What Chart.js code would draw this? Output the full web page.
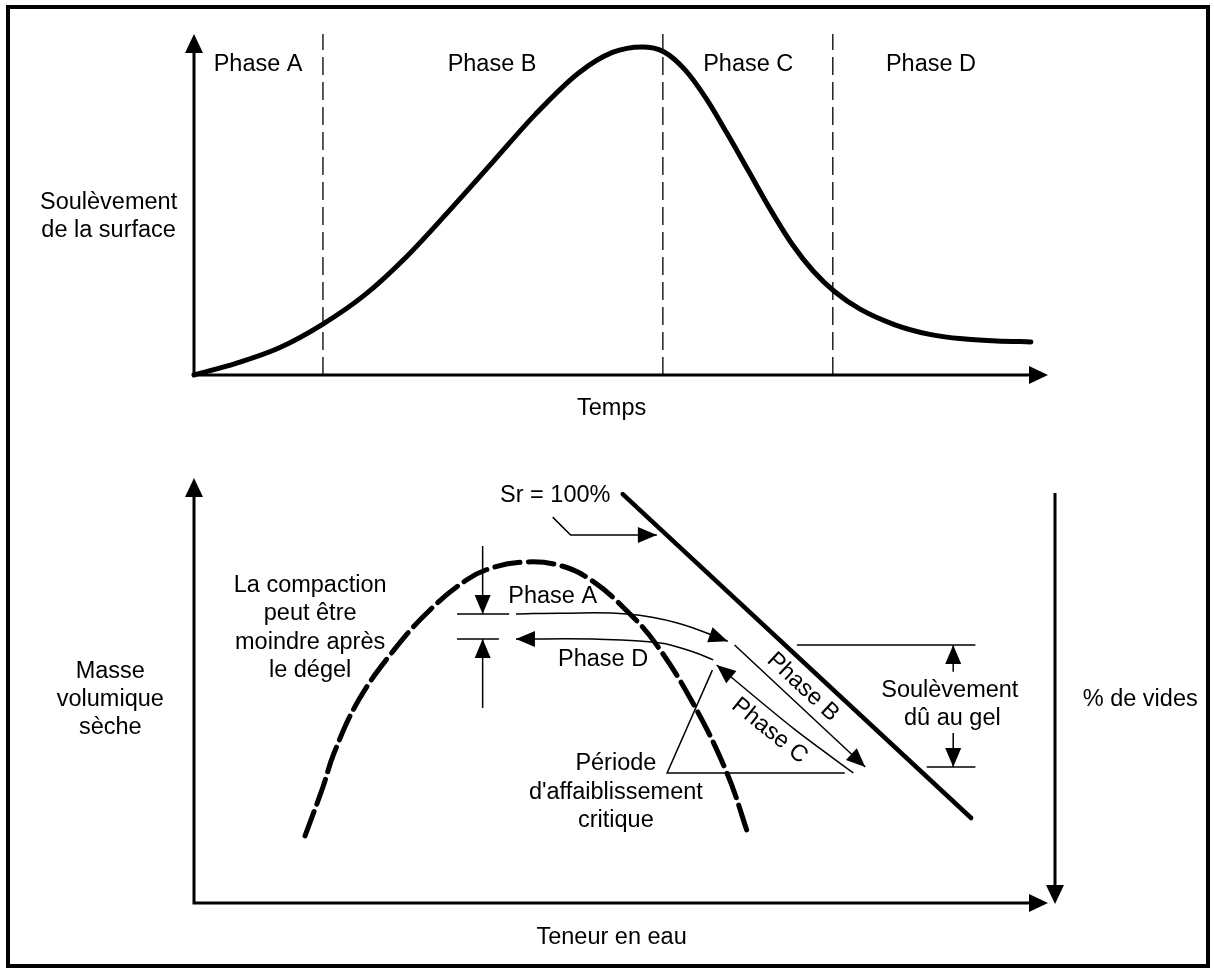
<!DOCTYPE html>
<html>
<head>
<meta charset="utf-8">
<script src="https://cdn.jsdelivr.net/npm/chart.js@4.4.1/dist/chart.umd.min.js"></script>
<style>
  html, body { margin: 0; padding: 0; background: #fff; }
  #wrap { position: relative; width: 1214px; height: 971px; overflow: hidden; background: #fff; }
  #wrap canvas { position: absolute; left: 0; top: 0; }
  #frame { position: absolute; left: 6px; top: 5px; width: 1204px; height: 963px; border: 4px solid #000; box-sizing: border-box; }
</style>
</head>
<body>
<div id="wrap">
  <div id="frame"></div>
  <canvas id="topChart" width="1214" height="971"></canvas>
  <canvas id="bottomChart" width="1214" height="971"></canvas>
</div>
<script>
// ---- top graph: surface heave over time ----
const timeVals  = [0, 5, 10, 15, 20, 25, 30, 35, 40, 45, 49, 52.5, 55, 57.5, 60, 62.5, 65, 67.5, 70, 72.5, 75, 78, 82, 86, 90, 94, 98];
const heaveVals = [0, 3.5, 8.0, 14.8, 23.5, 35.0, 48.5, 62.5, 76.5, 88.5, 94.6, 96.2, 94.8, 89.5, 81.0, 70.5, 59.5, 48.5, 38.5, 30.5, 24.5, 19.3, 14.8, 12.0, 10.6, 10.0, 9.7];
const phaseBounds = [15.1, 54.9, 74.8];
const phaseNames  = ['Phase A', 'Phase B', 'Phase C', 'Phase D'];
const phaseLabelX = [7.5, 34.9, 64.9, 86.3];
const phaseLabelY = 91.1;

// ---- bottom graph: dry density vs water content ----
const proctorX = [13.0, 15.1, 16.4, 19.3, 23.4, 27.6, 31.9, 34.8, 38.5, 42.7, 46.5, 50.6, 54.0, 58.4, 62.4, 65.0];
const proctorY = [15.8, 27.3, 35.3, 47.8, 59.5, 68.9, 76.0, 78.8, 80.2, 79.5, 76.0, 68.9, 61.2, 47.1, 30.6, 15.5];
const srX = [50.2, 91.0];
const srY = [96.2, 20.0];

// paths of the phase arrows and the callouts (water content, density)
const pathPhaseA = [[37.7, 68.0], [42.9, 68.2], [50.7, 68.0], [56.6, 65.9], [62.5, 61.6]];
const pathPhaseD = [[37.7, 62.1], [46.7, 62.1], [54.6, 61.2], [58.4, 59.1], [60.8, 57.2]];
const pathPhaseB = [[63.3, 60.7], [78.6, 32.0]];
const pathPhaseC = [[77.2, 30.6], [70.3, 40.9], [61.2, 56.0]];
const pathSrLead = [[42.0, 90.8], [44.1, 86.6], [54.2, 86.6]];
const compDown   = [[33.8, 84.0], [33.8, 68.0]];
const compUp     = [[33.8, 45.9], [33.8, 62.1]];
const compTickHi = [[30.8, 68.0], [36.9, 68.0]];
const compTickLo = [[30.8, 62.1], [35.7, 62.1]];
const weakPtr    = [[60.7, 54.8], [55.4, 30.6], [76.2, 30.6]];
const heaveTop   = [[70.6, 60.7], [91.5, 60.7]];
const heaveBot   = [[85.8, 32.0], [91.5, 32.0]];
const heaveUp    = [[88.9, 54.4], [88.9, 60.7]];
const heaveDown  = [[88.9, 40.0], [88.9, 32.0]];
const voidsAxisTop = 96.5;

const FONT = '23.5px "Liberation Sans", Arial, Helvetica, sans-serif';

function pts(list) { return list.map(p => ({ x: p[0], y: p[1] })); }

function head(ctx, fx, fy, tx, ty, len, half) {
  const dx = tx - fx, dy = ty - fy;
  const d = Math.hypot(dx, dy) || 1;
  const ux = dx / d, uy = dy / d;
  const bx = tx - ux * len, by = ty - uy * len;
  ctx.beginPath();
  ctx.moveTo(tx, ty);
  ctx.lineTo(bx - uy * half, by + ux * half);
  ctx.lineTo(bx + uy * half, by - ux * half);
  ctx.closePath();
  ctx.fill();
}

function makeExtras(labels, rightAxis) {
  return {
    id: 'extras',
    afterDatasetsDraw(chart) {
      const { ctx, chartArea: a, scales: { x, y } } = chart;
      ctx.save();
      ctx.fillStyle = '#000';
      ctx.strokeStyle = '#000';

      // axes with arrows
      ctx.lineWidth = 3;
      ctx.lineCap = 'butt';
      ctx.beginPath();
      ctx.moveTo(a.left, a.top + 12);
      ctx.lineTo(a.left, a.bottom);
      ctx.lineTo(a.right - 12, a.bottom);
      ctx.stroke();
      head(ctx, a.left, a.bottom, a.left, a.top, 19, 9);
      head(ctx, a.left, a.bottom, a.right, a.bottom, 19, 9);

      if (rightAxis) {
        const rx = a.right + 7;
        ctx.beginPath();
        ctx.moveTo(rx, y.getPixelForValue(voidsAxisTop));
        ctx.lineTo(rx, a.bottom - 10);
        ctx.stroke();
        head(ctx, rx, a.top, rx, a.bottom + 1, 19, 9);
      }

      // arrow heads on datasets
      chart.data.datasets.forEach((ds, i) => {
        if (!ds.arrow) return;
        const el = chart.getDatasetMeta(i).data;
        const n = el.length;
        if (ds.arrow === 'end') head(ctx, el[n - 2].x, el[n - 2].y, el[n - 1].x, el[n - 1].y, 19, 8);
        if (ds.arrow === 'start') head(ctx, el[1].x, el[1].y, el[0].x, el[0].y, 19, 8);
      });

      // texts
      ctx.font = FONT;
      ctx.textAlign = 'center';
      ctx.textBaseline = 'middle';
      labels.forEach(l => {
        const px = x.getPixelForValue(l.x), py = y.getPixelForValue(l.y);
        ctx.save();
        ctx.translate(px, py);
        if (l.angle) ctx.rotate(l.angle * Math.PI / 180);
        ctx.fillText(l.text, 0, 0);
        ctx.restore();
      });
      ctx.restore();
    }
  };
}

const baseOptions = (padding) => ({
  responsive: false,
  animation: false,
  devicePixelRatio: 1,
  events: [],
  layout: { padding },
  plugins: { legend: { display: false }, tooltip: { enabled: false } },
  elements: { point: { radius: 0 } },
  scales: {
    x: { type: 'linear', min: 0, max: 100, display: false },
    y: { type: 'linear', min: 0, max: 100, display: false }
  }
});

// ---- top chart ----
const topLabels = phaseNames.map((t, i) => ({ text: t, x: phaseLabelX[i], y: phaseLabelY }))
  .concat([
    { text: 'Soulèvement', x: -10.0, y: 50.7 },
    { text: 'de la surface', x: -10.0, y: 42.5 },
    { text: 'Temps', x: 48.9, y: -9.8 }
  ]);

const topSets = [{
  data: timeVals.map((t, i) => ({ x: t, y: heaveVals[i] })),
  borderColor: '#000', borderWidth: 5, cubicInterpolationMode: 'monotone',
  borderCapStyle: 'round', clip: false
}].concat(phaseBounds.map(b => ({
  data: [{ x: b, y: 0 }, { x: b, y: 100 }],
  borderColor: '#222', borderWidth: 1.5, borderDash: [18, 7], clip: false
})));

new Chart(document.getElementById('topChart'), {
  type: 'line',
  data: { datasets: topSets },
  options: baseOptions({ left: 194, right: 166, top: 34, bottom: 596 }),
  plugins: [makeExtras(topLabels, false)]
});

// ---- bottom chart ----
const thin = (list, arrow, tension) => ({
  data: pts(list), borderColor: '#000', borderWidth: 1.5,
  tension: tension || 0, arrow, clip: false
});

const bottomSets = [
  { data: proctorX.map((v, i) => ({ x: v, y: proctorY[i] })), borderColor: '#000', borderWidth: 5,
    borderDash: [26, 8], tension: 0.4, borderCapStyle: 'round', clip: false },
  { data: srX.map((v, i) => ({ x: v, y: srY[i] })), borderColor: '#000', borderWidth: 4.5,
    borderCapStyle: 'round', clip: false },
  thin(pathPhaseA, 'end', 0.4),
  thin(pathPhaseD, 'start', 0.4),
  thin(pathPhaseB, 'end'),
  thin(pathPhaseC, 'end', 0.3),
  thin(pathSrLead, 'end'),
  thin(compDown, 'end'),
  thin(compUp, 'end'),
  thin(compTickHi),
  thin(compTickLo),
  thin(weakPtr),
  thin(heaveTop),
  thin(heaveBot),
  thin(heaveUp, 'end'),
  thin(heaveDown, 'end')
];

const bottomLabels = [
  { text: 'Sr = 100%', x: 42.3, y: 95.8 },
  { text: 'La compaction', x: 13.6, y: 74.6 },
  { text: 'peut être', x: 13.6, y: 68.0 },
  { text: 'moindre après', x: 13.6, y: 61.2 },
  { text: 'le dégel', x: 13.6, y: 54.6 },
  { text: 'Phase A', x: 42.0, y: 72.0 },
  { text: 'Phase D', x: 47.9, y: 57.2 },
  { text: 'Phase B', x: 71.3, y: 50.8, angle: 43 },
  { text: 'Phase C', x: 67.4, y: 40.5, angle: 39 },
  { text: 'Période', x: 49.4, y: 32.9 },
  { text: "d'affaiblissement", x: 49.4, y: 26.1 },
  { text: 'critique', x: 49.4, y: 19.5 },
  { text: 'Soulèvement', x: 88.5, y: 50.1 },
  { text: 'dû au gel', x: 88.8, y: 43.5 },
  { text: 'Masse', x: -9.8, y: 54.4 },
  { text: 'volumique', x: -9.8, y: 47.8 },
  { text: 'sèche', x: -9.8, y: 41.2 },
  { text: '% de vides', x: 110.8, y: 47.8 },
  { text: 'Teneur en eau', x: 48.9, y: -8.2 }
];

new Chart(document.getElementById('bottomChart'), {
  type: 'line',
  data: { datasets: bottomSets },
  options: baseOptions({ left: 194, right: 166, top: 478, bottom: 68 }),
  plugins: [makeExtras(bottomLabels, true)]
});
</script>
</body>
</html>
